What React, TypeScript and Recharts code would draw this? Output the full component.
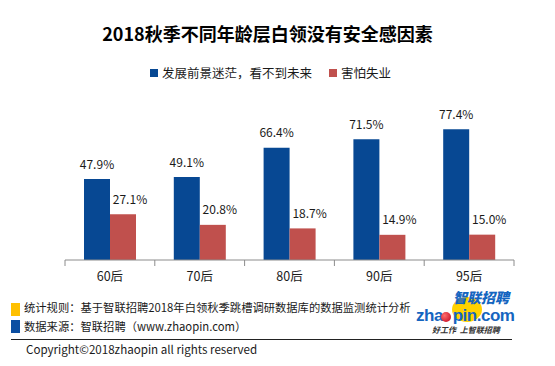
import React from "react";
import { BarChart, Bar, XAxis, YAxis, LabelList } from "recharts";

const categories = ["60后", "70后", "80后", "90后", "95后"];
const prospectValues = [47.9, 49.1, 66.4, 71.5, 77.4];
const jobLossValues = [27.1, 20.8, 18.7, 14.9, 15.0];
const seriesNames = ["发展前景迷茫，看不到未来", "害怕失业"];

const BLUE = "#074893";
const RED = "#C0504D";
const FONT = "'Noto Sans CJK SC', 'Noto Sans', sans-serif";

const W = 555;
const H = 366;
const AXIS_H = 30;
const margin = { top: 91, right: 41, left: 65, bottom: 106 - AXIS_H };
const AXIS_Y = H - 106;
const BAND = (W - margin.left - margin.right) / categories.length;

const data = categories.map((c, i) => ({
  name: c,
  prospect: prospectValues[i],
  jobLoss: jobLossValues[i],
}));

function makeLabel(dx: number) {
  return (props: any) => {
    const { x, y, width, value } = props;
    return (
      <text
        x={Number(x) + Number(width) / 2 + dx}
        y={Number(y) - 16}
        textAnchor="middle"
        dominantBaseline="central"
        fontSize={12}
        fontFamily={FONT}
        fill="#1a1a1a"
      >
        {Number(value).toFixed(1)}%
      </text>
    );
  };
}

function CategoryTick(props: any) {
  const { x, payload, index } = props;
  const half = BAND / 2;
  return (
    <g>
      <line x1={x - half} x2={x - half} y1={AXIS_Y} y2={AXIS_Y + 6} stroke="#8c8c8c" />
      {index === categories.length - 1 && (
        <line x1={x + half} x2={x + half} y1={AXIS_Y} y2={AXIS_Y + 6} stroke="#8c8c8c" />
      )}
      <text
        x={x}
        y={AXIS_Y + 15}
        textAnchor="middle"
        dominantBaseline="central"
        fontSize={12.5}
        fontFamily={FONT}
        fill="#1a1a1a"
      >
        {payload.value}
      </text>
    </g>
  );
}

function LegendRow() {
  const item = (color: string, label: string, left: number) => (
    <div style={{ position: "absolute", left, top: 0, display: "flex", alignItems: "center" }}>
      <span style={{ width: 8, height: 8, background: color, display: "inline-block", marginRight: 4 }} />
      <span style={{ fontSize: 12.5, color: "#1a1a1a", lineHeight: "16px" }}>{label}</span>
    </div>
  );
  return (
    <div style={{ position: "absolute", top: 65, left: 0, width: W, height: 16, fontFamily: FONT }}>
      {item(BLUE, seriesNames[0], 150)}
      {item(RED, seriesNames[1], 329)}
    </div>
  );
}

const footText = { position: "absolute" as const, fontSize: 11.3, lineHeight: "16px", color: "#1a1a1a", whiteSpace: "nowrap" as const };

export default function App() {
  return (
    <div
      style={{
        position: "absolute",
        left: 0,
        top: 0,
        width: W,
        height: H,
        background: "#fff",
        fontFamily: FONT,
        overflow: "hidden",
      }}
    >
      <div
        style={{
          position: "absolute",
          top: 21,
          left: 0,
          width: W,
          textAlign: "center",
          fontSize: 18,
          fontWeight: 700,
          color: "#000",
          lineHeight: "24px",
        }}
      >
        <span style={{ position: "relative", left: -10 }}>2018秋季不同年龄层白领没有安全感因素</span>
      </div>
      <LegendRow />
      <BarChart width={W} height={H} data={data} margin={margin} barGap={0}>
        <YAxis hide domain={[0, 100]} />
        <XAxis
          dataKey="name"
          height={AXIS_H}
          axisLine={{ stroke: "#8c8c8c" }}
          tickLine={false}
          tick={<CategoryTick />}
          interval={0}
        />
        <Bar dataKey="prospect" fill={BLUE} barSize={26} isAnimationActive={false}>
          <LabelList dataKey="prospect" content={makeLabel(0)} />
        </Bar>
        <Bar dataKey="jobLoss" fill={RED} barSize={26} isAnimationActive={false}>
          <LabelList dataKey="jobLoss" content={makeLabel(7)} />
        </Bar>
      </BarChart>

      <div style={{ position: "absolute", left: 11, top: 303, width: 9, height: 13, background: "#FFC000" }} />
      <div style={{ position: "absolute", left: 11, top: 320, width: 9, height: 13, background: "#0B4EA2" }} />
      <div style={{ ...footText, left: 24, top: 299 }}>
        统计规则：基于智联招聘2018年白领秋季跳槽调研数据库的数据监测统计分析
      </div>
      <div style={{ ...footText, left: 24, top: 318 }}>
        数据来源：智联招聘（www.zhaopin.com）
      </div>
      <div style={{ position: "absolute", left: 11, top: 339, width: 501, height: 1, background: "#222" }} />
      <div style={{ ...footText, left: 26, top: 341, fontSize: 11.6 }}>
        Copyright©2018zhaopin all rights reserved
      </div>

      <div style={{ position: "absolute", left: 452, top: 297, width: 30, height: 25, borderRadius: "50%", background: "#FFD200" }} />
      <div
        style={{
          position: "absolute",
          left: 453,
          top: 289,
          fontSize: 14,
          lineHeight: "16px",
          fontWeight: 900,
          fontStyle: "italic",
          color: "#1565C0",
          whiteSpace: "nowrap",
        }}
      >
        智联招聘
      </div>
      <div
        style={{
          position: "absolute",
          left: 416,
          top: 307,
          fontSize: 17,
          lineHeight: "17px",
          fontWeight: 900,
          color: "#1565C0",
          fontFamily: "'Liberation Sans', Arial, sans-serif",
          letterSpacing: -0.5,
          whiteSpace: "nowrap",
        }}
      >
        zha<span style={{ color: "transparent" }}>o</span>pin.com
      </div>
      <div style={{ position: "absolute", left: 441, top: 312, width: 10, height: 10, borderRadius: "50%", background: "radial-gradient(circle at 35% 35%, #ff6b6b, #c0001a)" }} />
      <div style={{ position: "absolute", left: 432, top: 325, fontSize: 8, lineHeight: "10px", fontStyle: "italic", fontWeight: 700, color: "#333", whiteSpace: "nowrap" }}>
        好工作&nbsp;&nbsp;上智联招聘
      </div>
    </div>
  );
}
